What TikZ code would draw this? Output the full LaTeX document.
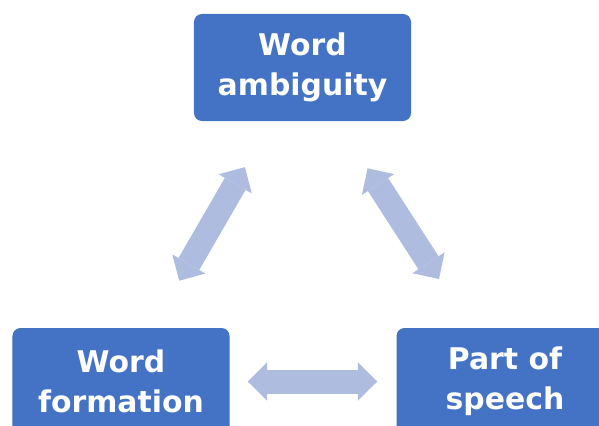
\documentclass[tikz,border=0pt]{standalone}
\usepackage{fontspec}
\setsansfont{DejaVu Sans}
\usetikzlibrary{arrows.meta,positioning}
\definecolor{boxblue}{HTML}{4472C4}
\definecolor{linkblue}{HTML}{AEBCE0}
\tikzset{
    %Define standard arrow tip
    >={Triangle[length=0.58cm,width=1.15cm,line width=0pt]},
    %Define style for boxes
    topic/.style={
           rectangle,
           rounded corners=0.24cm,
           fill=boxblue,
           text=white,
           font=\sffamily\bfseries\fontsize{25.5}{34.5}\selectfont,
           align=center,
           minimum width=6.51cm,
           minimum height=3.21cm,
           inner sep=0pt},
    % Define arrow style
    both/.style={
           <->,
           line width=0.72cm,
           draw=linkblue},
}
\begin{document}
\begin{tikzpicture}[x=0.03cm, y=-0.03cm]
 \useasboundingbox (0,0) rectangle (599,425);
 \clip (0,0) rectangle (599,425);
 %nodes
 \node[topic] (ambig) at (302.5,67.5) {Word\\ambiguity};
 \node[topic] (form) at (121,381.5) {Word\\formation};
 \node[topic] (speech) at (505,381.5) {Part of\\speech};
 %edges
 \draw[both, shorten <=1.59cm, shorten >=1.63cm] (ambig) -- (form);
 \draw[both, shorten <=1.68cm, shorten >=1.74cm] (ambig) -- (speech);
 \draw[both, shorten <=0.54cm, shorten >=0.57cm] (form) -- (speech);
\end{tikzpicture}
\end{document}
